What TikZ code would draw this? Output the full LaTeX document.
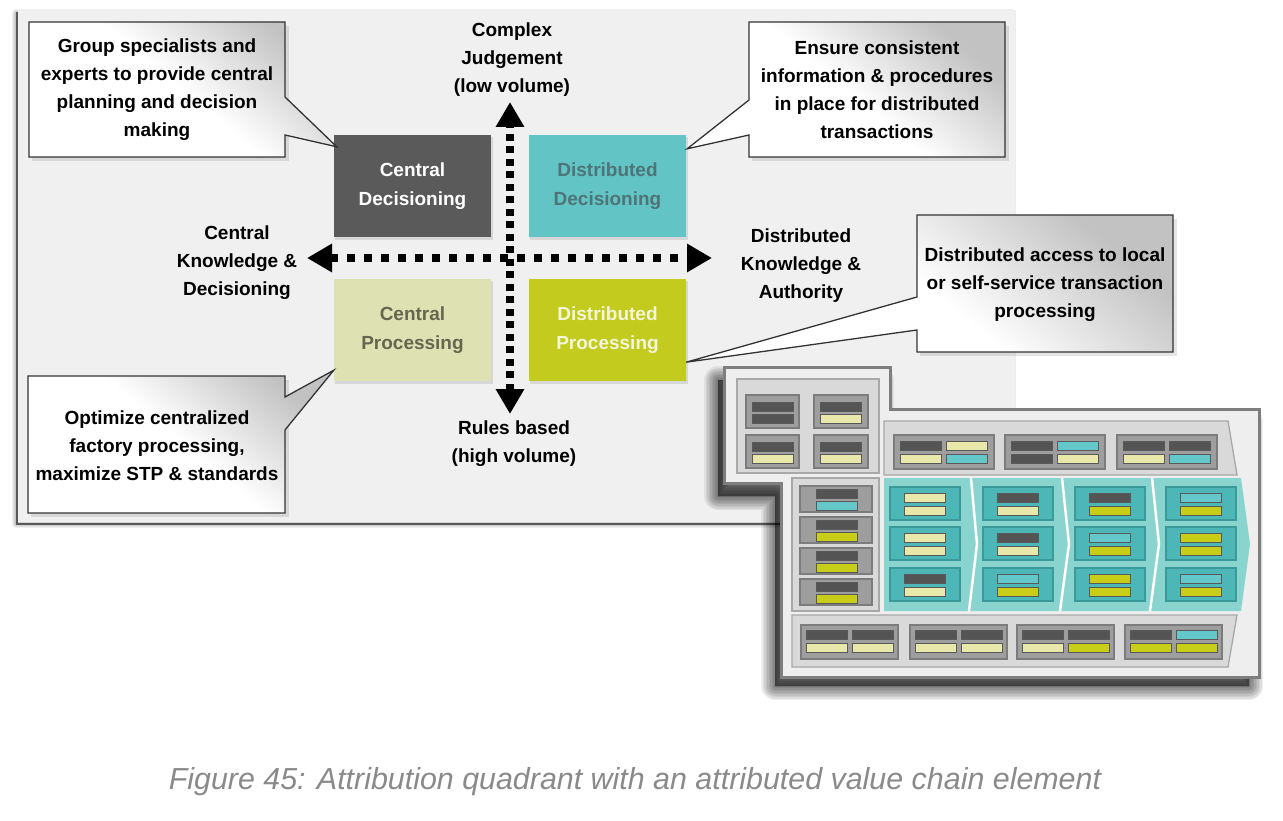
\documentclass[tikz,border=0pt]{standalone}
\usepackage{fontspec}
\setmainfont{Liberation Sans}
\usetikzlibrary{arrows.meta,calc}
\definecolor{panelc}{HTML}{F0F0F0}
\definecolor{cdark}{HTML}{5A5A5A}
\definecolor{cteal}{HTML}{62C4C4}
\definecolor{cpale}{HTML}{DEE2B2}
\definecolor{cyel}{HTML}{C2CB1E}
\definecolor{ddtext}{HTML}{4E7479}
\definecolor{cptext}{HTML}{66664F}
\definecolor{dptext}{HTML}{F4F5DA}
\definecolor{capc}{HTML}{8A8A8A}
\definecolor{frameb}{HTML}{7E7E7E}
\definecolor{framef}{HTML}{EEEEEE}
\definecolor{groupf}{HTML}{D9D9D9}
\definecolor{groupb}{HTML}{A8A8A8}
\definecolor{cardf}{HTML}{9E9E9E}
\definecolor{cardb}{HTML}{7C7C7C}
\definecolor{tealarea}{HTML}{8AD4CF}
\definecolor{tealcard}{HTML}{4DB7B7}
\definecolor{tealcardb}{HTML}{3A9A9A}
\definecolor{dk}{HTML}{545454}
\definecolor{pl}{HTML}{E8E8AA}
\definecolor{tl}{HTML}{64C8CA}
\definecolor{yl}{HTML}{C8CD18}
\newcommand\vcbar[3]{\draw[barst, fill=#3] (#1,#2) rectangle ++(41,9);}
\tikzset{
  lbl/.style={font=\fontsize{19}{28}\selectfont\bfseries, align=center, text=black, inner sep=0pt},
  quad/.style={minimum width=157pt, minimum height=102pt, inner sep=0pt, align=center,
    font=\fontsize{19}{29}\selectfont\bfseries},
  callout/.style={draw=black!80, line width=1.3pt, line join=miter,
    top color=black!24, bottom color=white, middle color=white, shading angle=-40},
  hdots/.style={line width=8pt, dash pattern=on 8pt off 9pt,
    {Triangle[length=25pt,width=27pt]}-{Triangle[length=25pt,width=27pt]}},
  vdots/.style={line width=8pt, dash pattern=on 7pt off 5.5pt,
    {Triangle[length=25pt,width=27pt]}-{Triangle[length=25pt,width=27pt]}},
  barst/.style={draw=black!65, line width=0.8pt},
  cardst/.style={fill=cardf, draw=cardb, line width=1.3pt},
  groupst/.style={fill=groupf, draw=groupb, line width=1.3pt},
  tcardst/.style={fill=tealcard, draw=tealcardb, line width=1.3pt},
}
\begin{document}
\begin{tikzpicture}[x=1pt,y=-1pt]
\useasboundingbox (0,0) rectangle (1283,821);
\fill[white] (0,0) rectangle (1283,821);

% ---------- main panel with soft shadow ----------
\foreach \w in {8,6,4,2}
  \draw[line width=\w pt, black, opacity=0.06, line join=round] (16,13) rectangle (1012,524);
\draw[line width=2pt, black!65] (17,12) -- (17,524) -- (1012,524);
\fill[panelc] (18,10) rectangle (1015,522);
\draw[black!7, line width=0.6pt] (18,10) -- (1015,10) -- (1015,522);

% ---------- quadrant boxes ----------
\foreach \x/\y in {412.5/186,607.5/186,412.5/330,607.5/330}
  \fill[black, opacity=0.10] (\x-77.5,\y-49) rectangle (\x+80.5,\y+54);
\node[quad, fill=cdark, text=white] (cd) at (412.5,186) {Central\\Decisioning};
\node[quad, fill=cteal, text=ddtext] (dd) at (607.5,186) {Distributed\\Decisioning};
\node[quad, fill=cpale, text=cptext] (cp) at (412.5,330) {Central\\Processing};
\node[quad, fill=cyel, text=dptext] (dp) at (607.5,330) {Distributed\\Processing};

% ---------- axes ----------
\coordinate (vt) at (510,102);
\coordinate (vb) at (510,414);
\coordinate (hl) at (307,258);
\coordinate (hr) at (712,258);
\draw[hdots] (hl) -- (hr);
\draw[vdots] (vb) -- (vt);

\node[lbl] (ltop) at (512,60) {Complex\\Judgement\\(low volume)};
\node[lbl] (lbot) at (514,444) {Rules based\\(high volume)};
\node[lbl] (lleft) at (237,263) {Central\\Knowledge \&\\Decisioning};
\node[lbl] (lright) at (801,266) {Distributed\\Knowledge \&\\Authority};

% ---------- callouts ----------
\coordinate (tip1) at ($(cd.north west)+(3,12)$);
\coordinate (tip2) at ($(dd.north east)+(1,14)$);
\coordinate (tip3) at ($(cp.south west)+(0,-11)$);
\coordinate (tip4) at ($(dp.south east)+(0,-19)$);

\fill[black,opacity=0.10] (32,26) rectangle (289,161);
\path[callout] (29,22) -- (285,22) -- (285,97) -- (tip1) -- (285,135) -- (285,157) -- (29,157) -- cycle;
\node[lbl] (t1) at (157,90) {Group specialists and\\experts to provide central\\planning and decision\\making};

\fill[black,opacity=0.10] (752,26) rectangle (1009,161);
\path[callout] (749,22) -- (1005,22) -- (1005,157) -- (749,157) -- (749,135) -- (tip2) -- (749,100) -- cycle;
\node[lbl] (t2) at (877,90) {Ensure consistent\\information \& procedures\\in place for distributed\\transactions};

\fill[black,opacity=0.10] (31,380) rectangle (289,517);
\path[callout] (28,376) -- (285,376) -- (285,397) -- (tip3) -- (285,430) -- (285,513) -- (28,513) -- cycle;
\node[lbl] (t3) at (157,446) {Optimize centralized\\factory processing,\\maximize STP \& standards};

\fill[black,opacity=0.10] (920,219) rectangle (1177,356);
\path[callout] (917,215) -- (1173,215) -- (1173,352) -- (917,352) -- (917,330) -- (tip4) -- (917,297) -- cycle;
\node[lbl] (t4) at (1045,285) {Distributed access to local\\or self-service transaction\\processing};

% ---------- value chain element ----------
\foreach \w in {28,25,22,19,16,13,10,7,4,1}
  \draw[line width=\w pt, black, fill=black, opacity=0.065, line join=round, shift={(-8,11)}]
    (726,369) -- (888,369) -- (888,411) -- (1257,411) -- (1257,675) -- (783,675) -- (783,485) -- (726,485) -- cycle;
\draw[fill=framef, draw=frameb, line width=3pt]
  (724,367) -- (890,367) -- (890,409) -- (1259,409) -- (1259,677) -- (781,677) -- (781,483) -- (724,483) -- cycle;

% top-left group
\draw[groupst] (737,379) rectangle (879,473);
\draw[cardst] (746,395) rectangle (799,428);
\draw[cardst] (814,395) rectangle (868,428);
\draw[cardst] (746,435) rectangle (799,468);
\draw[cardst] (814,435) rectangle (868,468);
\vcbar{752}{402}{dk}\vcbar{752}{414}{dk}
\vcbar{820}{402}{dk}\vcbar{820}{414}{pl}
\vcbar{752}{442}{dk}\vcbar{752}{454}{pl}
\vcbar{820}{442}{dk}\vcbar{820}{454}{pl}

% top band
\draw[groupst] (884,421) -- (1228,421) -- (1237,475) -- (884,475) -- cycle;
\foreach \x/\a/\b/\c/\d in {894/dk/pl/pl/tl, 1005/dk/tl/dk/pl, 1117/dk/dk/pl/tl}{
  \draw[cardst] (\x,435) rectangle ++(100,34);
  \vcbar{\x+6}{441}{\a}\vcbar{\x+52}{441}{\b}
  \vcbar{\x+6}{454}{\c}\vcbar{\x+52}{454}{\d}
}

% left column
\draw[groupst] (792,478) rectangle (879,611);
\foreach \y/\a/\b in {486/dk/tl, 517/dk/yl, 548/dk/yl, 579/dk/yl}{
  \draw[cardst] (800,\y) rectangle ++(72,26);
  \vcbar{816}{\y+3}{\a}\vcbar{816}{\y+15}{\b}
}

% teal value chain area
\fill[tealarea] (884,478) -- (1241,478) -- (1250,544) -- (1241,611) -- (884,611) -- cycle;
\draw[white, line width=2.5pt] (971,478) -- (977,544) -- (969,611);
\draw[white, line width=2.5pt] (1062,478) -- (1069,544) -- (1060,611);
\draw[white, line width=2.5pt] (1152,478) -- (1159,544) -- (1150,611);
\foreach \x/\y/\a/\b in {
  890/487/pl/pl, 890/527/pl/pl, 890/568/dk/pl,
  983/487/dk/pl, 983/527/dk/pl, 983/568/tl/yl,
  1075/487/dk/yl, 1075/527/tl/yl, 1075/568/yl/yl,
  1166/487/tl/yl, 1166/527/yl/yl, 1166/568/tl/yl}{
  \draw[tcardst] (\x,\y) rectangle ++(70,33);
  \vcbar{\x+14}{\y+6}{\a}\vcbar{\x+14}{\y+19}{\b}
}

% bottom band
\draw[groupst] (792,615) -- (1237,615) -- (1228,667) -- (792,667) -- cycle;
\foreach \x/\a/\b/\c/\d in {801/dk/dk/pl/pl, 910/dk/dk/pl/pl, 1017/dk/dk/pl/yl, 1125/dk/tl/yl/yl}{
  \draw[cardst] (\x,625) rectangle ++(97,34);
  \vcbar{\x+5}{630}{\a}\vcbar{\x+51}{630}{\b}
  \vcbar{\x+5}{643}{\c}\vcbar{\x+51}{643}{\d}
}

% ---------- caption ----------
\node[text=capc, font=\fontsize{30.4}{34}\selectfont\itshape, inner sep=0pt] (cap) at (635,782)
  {Figure 45: Attribution quadrant with an attributed value chain element};
\end{tikzpicture}
\end{document}
